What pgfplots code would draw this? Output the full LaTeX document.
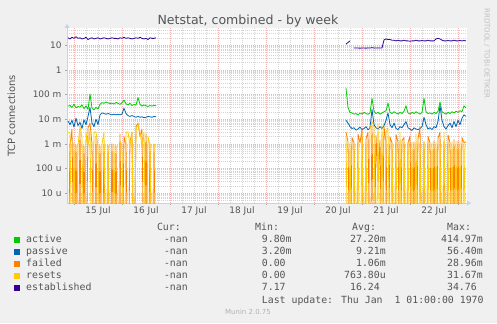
\documentclass[border=0pt]{standalone}
\usepackage{fontspec}
\setmainfont{DejaVu Sans}
\newfontfamily\monofont{DejaVu Sans Mono}
\usepackage{pgfplots}
\pgfplotsset{compat=1.18}
\usepackage{pgfplotstable}
\usetikzlibrary{arrows.meta}

\definecolor{cactive}{HTML}{00CC00}
\definecolor{cpassive}{HTML}{0066B3}
\definecolor{cfailed}{HTML}{FF8000}
\definecolor{cresets}{HTML}{FFCC00}
\definecolor{cestab}{HTML}{330099}
\definecolor{bgcol}{HTML}{F0F0F0}
\definecolor{axcol}{HTML}{C8D0F4}
\definecolor{txt}{HTML}{555555}
\definecolor{mgrid}{HTML}{F0B4B4}
\definecolor{ngrid}{HTML}{D4D4D4}

% h = hours since 15 Jul 00:00 ; 1e-9 stands for a zero value (drawn at the bottom)
\pgfplotstableread{
h act pas fail res est
-3 0.034 0.0085 1e-9 0.0030 20
-2 0.036 0.0060 0.0009 0.0028 18
-1 0.030 0.0090 0.0040 1e-9 21
0 0.041 0.0048 1e-9 0.0011 19
1 0.029 0.0110 0.0009 1e-9 22
2 0.033 0.0055 1e-9 0.0009 19
3 0.031 0.0075 0.0030 0.0050 20
4 0.038 0.0042 1e-9 0.0018 18
5 0.027 0.0095 0.0008 1e-9 19
6 0.035 0.0060 1e-9 0.0030 21
7 0.025 0.0130 0.0045 0.0008 17
8 0.105 0.0300 0.0070 0.0035 19
9 0.028 0.0070 0.0010 1e-9 20
10 0.024 0.0050 1e-9 0.0030 18
11 0.030 0.0100 0.0020 0.0030 19
12 0.026 0.0060 1e-9 0.0009 20
13 0.040 0.0150 0.0008 1e-9 18
14 0.047 0.0180 1e-9 0.0010 19
15 0.044 0.0170 0.0009 0.0030 20
16 0.050 0.0160 1e-9 1e-9 19
17 0.046 0.0170 0.0009 0.0009 18
18 0.043 0.0160 1e-9 1e-9 19
19 0.045 0.0150 0.0010 1e-9 20
20 0.041 0.0160 1e-9 0.0009 19
21 0.048 0.0150 0.0008 1e-9 19
22 0.044 0.0160 1e-9 1e-9 18
23 0.040 0.0150 0.0025 0.0012 20
24 0.046 0.0160 1e-9 0.0009 19
25 0.060 0.0280 0.0020 1e-9 21
26 0.042 0.0170 0.0009 0.0030 19
27 0.038 0.0140 1e-9 0.0030 20
28 0.044 0.0130 0.0012 0.0009 19
29 0.036 0.0140 0.0030 0.0030 18
30 0.040 0.0130 1e-9 1e-9 19
31 0.037 0.0120 0.0050 0.0040 20
32 0.075 0.0130 0.0070 0.0060 19
33 0.040 0.0120 0.0020 0.0030 21
34 0.034 0.0125 0.0040 0.0008 19
35 0.038 0.0115 1e-9 0.0030 18
36 0.035 0.0120 0.0025 1e-9 19
37 0.033 0.0130 1e-9 0.0020 17
38 0.036 0.0125 0.0010 0.0009 20
39 0.034 0.0120 1e-9 1e-9 19
40 0.037 0.0130 0.0009 0.0010 19
41 0.035 0.0125 1e-9 0.0009 20
100 nan nan nan nan nan
136 0.180 0.0090 0.0030 0.0020 11
137 0.030 0.0070 0.0012 1e-9 13
138 0.019 0.0050 1e-9 0.0011 15
139 0.018 0.0042 0.0018 1e-9 nan
140 0.016 0.0045 0.0011 0.0010 7.8
141 0.017 0.0036 1e-9 1e-9 7.7
142 0.015 0.0040 0.0025 0.0012 7.7
143 0.018 0.0048 0.0011 1e-9 7.6
144 0.016 0.0038 0.0040 0.0030 7.7
145 0.019 0.0042 1e-9 1e-9 7.7
146 0.017 0.0050 0.0016 0.0011 7.6
147 0.016 0.0037 0.0030 1e-9 7.8
148 0.018 0.0045 1e-9 0.0040 7.7
149 0.070 0.0250 0.0055 0.0080 8.0
150 0.021 0.0060 1e-9 0.0050 7.7
151 0.017 0.0045 0.0022 1e-9 7.7
152 0.019 0.0040 3e-5 0.0065 7.8
153 0.016 0.0050 0.0014 1e-9 7.7
154 0.018 0.0042 1e-9 0.0060 7.8
155 0.020 0.0055 0.0050 1e-9 16.5
156 0.022 0.0090 0.0012 0.0030 18
157 0.045 0.0180 1e-9 0.0045 17
158 0.019 0.0060 0.0019 1e-9 17
159 0.017 0.0045 0.0011 0.0011 16
160 0.020 0.0070 1e-9 1e-9 16
161 0.018 0.0042 0.0024 0.0013 15
162 0.016 0.0038 0.0012 1e-9 16
163 0.019 0.0050 1e-9 0.0030 15
164 0.017 0.0045 0.0014 1e-9 15
165 0.021 0.0060 0.0018 0.0012 16
166 0.035 0.0080 1e-9 1e-9 15
167 0.018 0.0045 0.0011 0.0011 15
168 0.016 0.0040 0.0021 1e-9 14.5
169 0.019 0.0035 1e-9 0.0012 15
170 0.017 0.0045 0.0012 1e-9 15
171 0.020 0.0040 1e-9 0.0025 16
172 0.018 0.0038 0.0016 1e-9 15
173 0.016 0.0042 0.0050 0.0011 15
174 0.019 0.0050 1e-9 1e-9 15.5
175 0.070 0.0120 0.0012 0.0013 15
176 0.020 0.0060 1e-9 1e-9 15
177 0.017 0.0040 0.0020 0.0012 16
178 0.018 0.0045 0.0011 1e-9 15
179 0.016 0.0038 1e-9 0.0011 15
180 0.019 0.0050 0.0013 1e-9 15
181 0.017 0.0045 1e-9 0.0012 18
182 0.021 0.0080 0.0017 1e-9 19
183 0.050 0.0350 0.0030 0.0013 18
184 0.020 0.0090 1e-9 1e-9 16
185 0.018 0.0050 0.0012 0.0030 15
186 0.016 0.0040 1e-9 1e-9 15
187 0.019 0.0055 0.0023 0.0011 15.5
188 0.017 0.0070 0.0011 1e-9 15
189 0.020 0.0045 1e-9 0.0012 15
190 0.018 0.0080 0.0015 1e-9 16
191 0.021 0.0050 1e-9 0.0013 15
192 0.019 0.0090 0.0013 1e-9 15
193 0.022 0.0060 1e-9 0.0012 15.5
194 0.020 0.0110 0.0018 1e-9 15
195 0.035 0.0150 0.0011 0.0013 15.5
196 0.028 0.0130 0.0012 1e-9 15
}\netdata

\begin{document}
\begin{tikzpicture}[x=1bp,y=1bp]
\fill[bgcol] (0,0) rectangle (497,323);
\useasboundingbox (0,0) rectangle (497,323);
\begin{axis}[
  at={(67bp,120bp)}, anchor=south west,
  width=400bp, height=175bp, scale only axis,
  xmin=-3.5, xmax=196.5,
  ymode=log, ymin=4e-6, ymax=50,
  axis background/.style={fill=white},
  axis lines=left,
  axis line style={draw=axcol, line width=0.8bp, -{Triangle[length=4bp,width=5bp]}, shorten >=-4bp},
  every outer x axis line/.append style={draw=axcol, -{Triangle[length=4bp,width=5bp]}},
  every outer y axis line/.append style={draw=axcol, -{Triangle[length=4bp,width=5bp]}},
  xtick={0,24,48,72,96,120,144,168,192}, xticklabels={},
  minor xtick={6,12,18,30,36,42,54,60,66,78,84,90,102,108,114,126,132,138,150,156,162,174,180,186},
  extra x ticks={12,36,60,84,108,132,156,180},
  extra x tick labels={15 Jul,16 Jul,17 Jul,18 Jul,19 Jul,20 Jul,21 Jul,22 Jul},
  extra x tick style={grid=none, major tick length=0pt},
  ytick={1e-5,1e-4,1e-3,1e-2,1e-1,1,10},
  yticklabels={10 u,100 u,1 m,10 m,100 m,1,10},
  minor ytick={5e-6,6e-6,7e-6,8e-6,9e-6,
    2e-5,3e-5,4e-5,5e-5,6e-5,7e-5,8e-5,9e-5,
    2e-4,3e-4,4e-4,5e-4,6e-4,7e-4,8e-4,9e-4,
    2e-3,3e-3,4e-3,5e-3,6e-3,7e-3,8e-3,9e-3,
    2e-2,3e-2,4e-2,5e-2,6e-2,7e-2,8e-2,9e-2,
    0.2,0.3,0.4,0.5,0.6,0.7,0.8,0.9,
    2,3,4,5,6,7,8,9,20,30,40},
  grid=both,
  major grid style={draw=mgrid, dash pattern=on 1bp off 1bp, line width=0.5bp},
  minor grid style={draw=ngrid, dash pattern=on 1bp off 1bp, line width=0.5bp},
  tick align=outside, major tick length=2bp, minor tick length=0bp,
  tick style={draw=black!35, line width=0.5bp},
  ticklabel style={font=\fontsize{9}{10}\selectfont, text=txt},
  /pgf/number format/assume math mode=true,
  unbounded coords=jump,
  every axis plot/.append style={line width=0.8bp, line join=round},
]
\addplot[cactive] table[x=h,y=act]{\netdata};
\addplot[cpassive] table[x=h,y=pas]{\netdata};
\addplot[cfailed] table[x=h,y=fail]{\netdata};
\addplot[cresets] table[x=h,y=res]{\netdata};
\addplot[cestab] table[x=h,y=est]{\netdata};
\end{axis}

% titles
\node[anchor=base, text=txt, font=\fontsize{12.6}{14}\selectfont] at (248,299) {Netstat, combined - by week};
\node[rotate=90, text=txt, font=\fontsize{10}{12}\selectfont] at (11.5,207) {TCP connections};
\node[rotate=-90, text=black!25, font=\fontsize{7}{8}\selectfont] at (487,269.5) {RRDTOOL / TOBI OETIKER};
\node[text=black!30, font=\fontsize{7}{8}\selectfont] at (248,11) {Munin 2.0.75};

% legend
\begin{scope}[every node/.style={text=txt, font=\monofont\fontsize{9.9}{11}\selectfont, inner sep=0pt}]
\node[anchor=mid east] at (181,95) {Cur:};
\node[anchor=mid west] at (255,95) {Min:};
\node[anchor=mid west] at (352,95) {Avg:};
\node[anchor=mid west] at (447,95) {Max:};

\fill[cactive] (14,80) rectangle (20,86);
\node[anchor=mid west] at (26,83) {active};
\node[anchor=mid east] at (188,83) {-nan};
\node[anchor=mid west] at (261.7,83) {9.80m};
\node[anchor=mid east] at (386,83) {27.20m};
\node[anchor=mid east] at (483,83) {414.97m};

\fill[cpassive] (14,68) rectangle (20,74);
\node[anchor=mid west] at (26,71) {passive};
\node[anchor=mid east] at (188,71) {-nan};
\node[anchor=mid west] at (261.7,71) {3.20m};
\node[anchor=mid east] at (386,71) {9.21m};
\node[anchor=mid east] at (483,71) {56.40m};

\fill[cfailed] (14,56) rectangle (20,62);
\node[anchor=mid west] at (26,59) {failed};
\node[anchor=mid east] at (188,59) {-nan};
\node[anchor=mid west] at (261.7,59) {0.00};
\node[anchor=mid east] at (386,59) {1.06m};
\node[anchor=mid east] at (483,59) {28.96m};

\fill[cresets] (14,44) rectangle (20,50);
\node[anchor=mid west] at (26,47) {resets};
\node[anchor=mid east] at (188,47) {-nan};
\node[anchor=mid west] at (261.7,47) {0.00};
\node[anchor=mid east] at (386,47) {763.80u};
\node[anchor=mid east] at (483,47) {31.67m};

\fill[cestab] (14,32) rectangle (20,38);
\node[anchor=mid west] at (26,35) {established};
\node[anchor=mid east] at (188,35) {-nan};
\node[anchor=mid west] at (261.7,35) {7.17};
\node[anchor=mid east] at (380,35) {16.24};
\node[anchor=mid east] at (477,35) {34.76};

\node[anchor=mid west] at (261.7,22.5) {Last update: Thu Jan~~1 01:00:00 1970};
\end{scope}
\end{tikzpicture}
\end{document}
